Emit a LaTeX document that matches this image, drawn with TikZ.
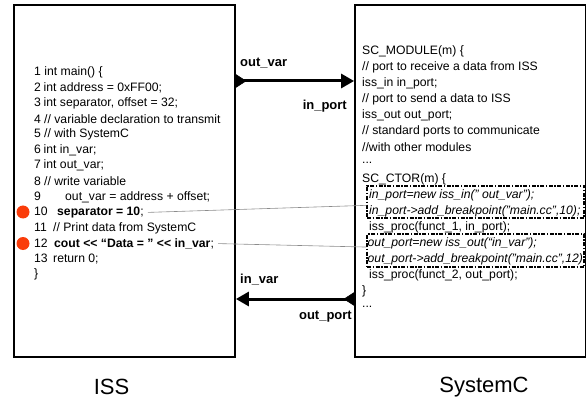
\documentclass[tikz,border=0pt]{standalone}
\usepackage{fontspec}
\setmainfont{Liberation Sans}
\usetikzlibrary{arrows.meta,calc}
\definecolor{dotred}{RGB}{250,60,10}
\begin{document}
\begin{tikzpicture}[x=1pt,y=-1pt,
  box/.style={draw=black,line width=1.8pt,inner sep=0},
  code/.style={anchor=west,inner sep=0,font=\fontsize{12.2}{14}\selectfont},
  icode/.style={code,font=\fontsize{12.2}{14}\selectfont\itshape},
  plabel/.style={inner sep=0,font=\fontsize{13}{15}\selectfont\bfseries},
  biglabel/.style={inner sep=0,font=\fontsize{22}{26}\selectfont},
  dbox/.style={draw=black,line width=1.5pt,dash pattern=on 4pt off 1.5pt on 1.5pt off 1.5pt,inner sep=0},
  flow/.style={line width=3pt,-{Triangle[length=13pt,width=14pt]}},
  tail/.style={fill=black,draw=black,line width=0.5pt,line join=miter},
  link/.style={draw=black!45,line width=0.6pt},
  bp/.style={circle,fill=dotred,draw=none,minimum size=13pt,inner sep=0}
]
\useasboundingbox (0,0) rectangle (588,403);

% boxes
\node[box,minimum width=221pt,minimum height=352pt] (iss) at (124.5,181) {};
\node[box,minimum width=230.5pt,minimum height=352pt] (sysc) at (470.25,181) {};

% ISS code
\node[code] (l1) at (34,72) {1 int main() \{};
\node[code] (l2) at (34,87.6) {\makebox[9.5pt][l]{2}int address = 0xFF00;};
\node[code] (l3) at (34,103.2) {\makebox[9.5pt][l]{3}int separator, offset = 32;};
\node[code] (l4) at (34,118.8) {\makebox[10pt][l]{4}// variable declaration to transmit};
\node[code] (l5) at (34,134.4) {\makebox[10pt][l]{5}// with SystemC};
\node[code] (l6) at (34,150) {\makebox[9.5pt][l]{6}int in\_var;};
\node[code] (l7) at (34,165.6) {\makebox[9.5pt][l]{7}int out\_var;};
\node[code] (l8) at (34,181.2) {\makebox[10pt][l]{8}// write variable};
\node[code] (l9) at (34,196.8) {\makebox[31pt][l]{9}out\_var = address + offset;};
\node[code] (l10) at (34,212.4) {\makebox[23pt][l]{10}\textbf{separator = 10};};
\node[code] (l11) at (34,228) {\makebox[19pt][l]{11}// Print data from SystemC};
\node[code] (l12) at (34,243.6) {\makebox[20pt][l]{12}\textbf{cout <{}< “Data = ” <{}< in\_var};};
\node[code] (l13) at (34,259.2) {\makebox[19pt][l]{13}return 0;};
\node[code] (l14) at (34,274.8) {\}};

% breakpoints
\node[bp] (bp1) at (23,212) {};
\node[bp] (bp2) at (23,243.5) {};

% SystemC code
\node[code] (r0) at (362,51) {SC\_MODULE(m) \{};
\node[code] (r1) at (362,67) {// port to receive a data from ISS};
\node[code] (r2) at (362,83) {iss\_in in\_port;};
\node[code] (r3) at (362,99) {// port to send a data to ISS};
\node[code] (r4) at (362,115) {iss\_out out\_port;};
\node[code] (r5) at (362,131) {// standard ports to communicate};
\node[code] (r6) at (362,147) {//with other modules};
\node[code] (r7) at (362,163) {...};
\node[code] (r8) at (362,179) {SC\_CTOR(m) \{};
\node[icode] (r9) at (369,195) {in\_port=new iss\_in(" out\_var");};
\node[icode] (r10) at (369,211) {in\_port->add\_breakpoint("main.cc",10);};
\node[code] (r11) at (369,227) {iss\_proc(funct\_1, in\_port);};
\node[icode] (r12) at (367.5,243) {out\_port=new iss\_out(“in\_var");};
\node[icode] (r13) at (367.5,259) {out\_port->add\_breakpoint("main.cc",12)};
\node[code] (r14) at (369,275) {iss\_proc(funct\_2, out\_port);};
\node[code] (r15) at (362,291) {\}};
\node[code] (r16) at (362,307) {...};

% dashed highlight boxes
\node[dbox,minimum width=217pt,minimum height=32pt] (db1) at (475.5,202) {};
\node[dbox,minimum width=217pt,minimum height=33pt] (db2) at (475.5,250.5) {};

% thin connectors
\draw[link] ($(l10.east)+(4,0)$) -- ($(db1.north west)!0.6!(db1.south west)$);
\draw[link] ($(l12.east)+(4,0)$) -- ($(db2.north west)!0.4!(db2.south west)$);

% port arrows
\coordinate (a1s) at (iss.east |- 0,81);
\coordinate (a1e) at (sysc.west |- 0,81);
\coordinate (a2s) at (sysc.west |- 0,299);
\coordinate (a2e) at (iss.east |- 0,299);
\draw[flow] (a1s) -- (a1e);
\draw[flow] (a2s) -- (a2e);
\filldraw[tail] ($(a1s)+(0,-6.5)$) -- ($(a1s)+(10,0)$) -- ($(a1s)+(0,6.5)$) -- cycle;
\filldraw[tail] ($(a2s)+(0,-6.5)$) -- ($(a2s)+(-10,0)$) -- ($(a2s)+(0,6.5)$) -- cycle;

\node[plabel,anchor=west] (lov) at (240,63) {out\_var};
\node[plabel,anchor=east] (lip) at (347,106) {in\_port};
\node[plabel,anchor=west] (liv) at (240,280) {in\_var};
\node[plabel,anchor=east] (lop) at (352,317) {out\_port};

% titles
\node[biglabel] (tiss) at (111.5,387) {ISS};
\node[biglabel] (tsc) at (484,387) {SystemC};
\end{tikzpicture}
\end{document}
